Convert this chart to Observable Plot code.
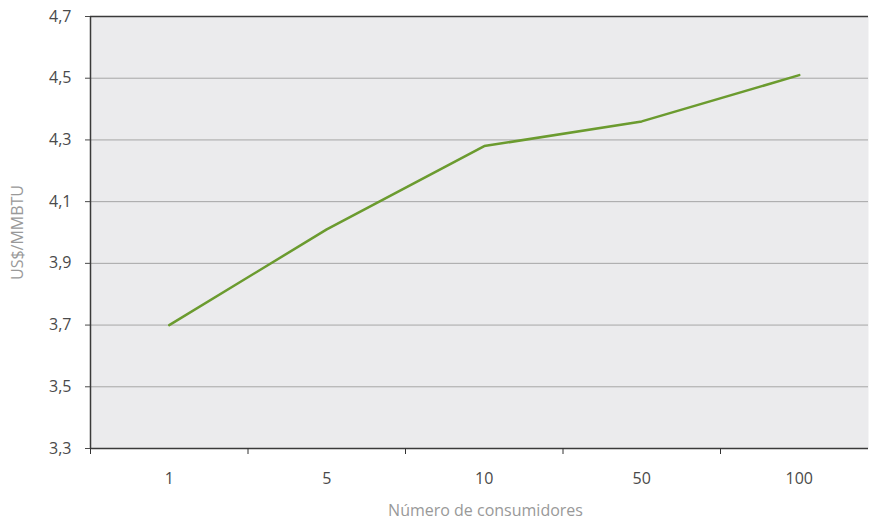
<!DOCTYPE html>
<html><head><meta charset="utf-8">
<script src="https://cdn.jsdelivr.net/npm/d3@7"></script>
<script src="https://cdn.jsdelivr.net/npm/@observablehq/plot@0.6"></script>
<style>body{margin:0;background:#fff;}</style>
</head><body><div id="chart"></div>
<script>
const categories = ["1", "5", "10", "50", "100"];
const values = [3.70, 4.01, 4.28, 4.36, 4.51];
const yTicks = [3.3, 3.5, 3.7, 3.9, 4.1, 4.3, 4.5, 4.7];
const yLabel = "US$/MMBTU";
const xLabel = "Número de consumidores";

const data = categories.map((c, i) => ({i: i + 0.5, cat: c, v: values[i]}));
const bounds = d3.range(categories.length + 1);
const fmt = d => d3.format(".1f")(d).replace(".", ",");

const chart = Plot.plot({
  width: 869, height: 523,
  marginLeft: 90, marginRight: 1, marginTop: 16, marginBottom: 75,
  style: {fontFamily: "'Open Sans', sans-serif", fontSize: "16px", background: "#fff"},
  x: {type: "linear", domain: [0, categories.length], range: [90, 877.5]},
  y: {domain: [3.3, 4.7]},
  marks: [
    Plot.frame({fill: "#ebebed", stroke: null}),
    Plot.ruleY(yTicks.slice(1, -1), {stroke: "#a6a6a6", strokeWidth: 1}),
    Plot.ruleY([4.7], {stroke: "#3a3a3a", strokeWidth: 1.5}),
    Plot.ruleY([3.3], {stroke: "#3a3a3a", strokeWidth: 1.5}),
    Plot.ruleX([0], {stroke: "#3a3a3a", strokeWidth: 1.5}),
    Plot.axisY({ticks: yTicks, tickFormat: fmt, tickSize: 5, tickPadding: 14, label: null, color: "#4a4a4a", fontSize: 16}),
    Plot.axisX({ticks: bounds, tickFormat: () => "", tickSize: 6, label: null, color: "#333"}),
    Plot.axisX({ticks: data.map(d => d.i), tickFormat: d => categories[Math.floor(d)], tickSize: 0, tickPadding: 24, label: null, color: "#4a4a4a", fontSize: 16}),
    Plot.line(data, {x: "i", y: "v", stroke: "#6b9b2f", strokeWidth: 2.5}),
    Plot.text([yLabel], {frameAnchor: "left", textAnchor: "middle", dx: -73, rotate: -90, fill: "#999", fontSize: 16}),
    Plot.text([xLabel], {frameAnchor: "bottom", textAnchor: "middle", dx: 6, dy: 67, fill: "#999", fontSize: 16})
  ]
});
document.getElementById("chart").appendChild(chart);
</script>
</body></html>
